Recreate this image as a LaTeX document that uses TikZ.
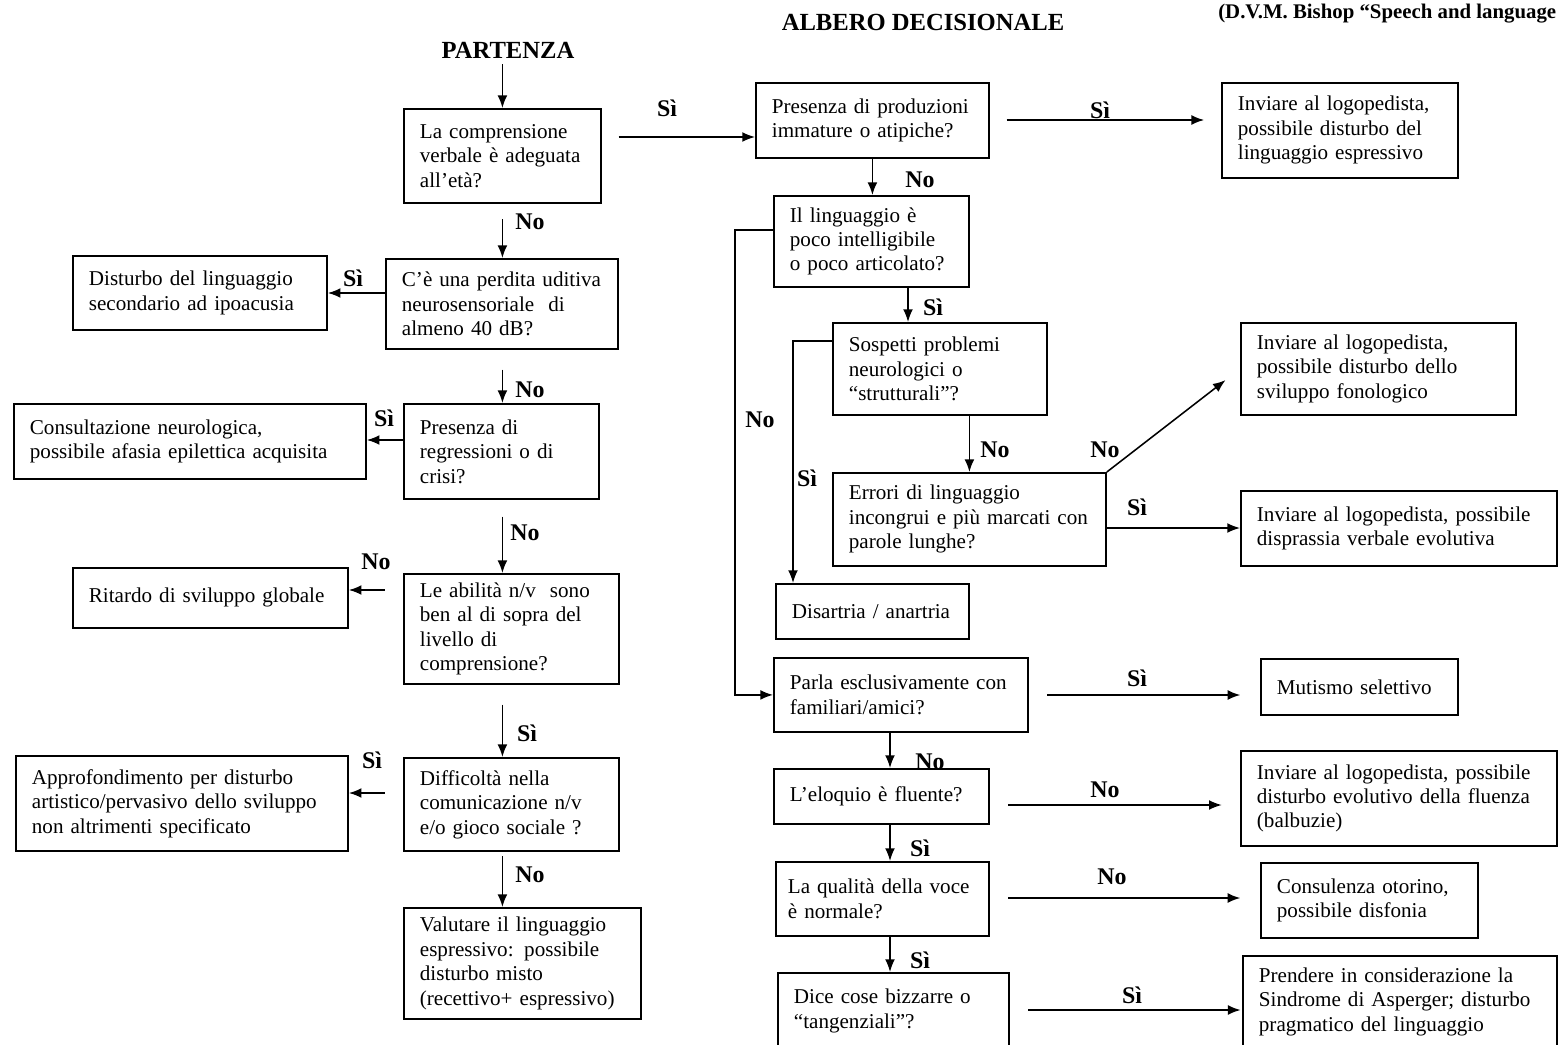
\documentclass[tikz,border=0pt]{standalone}
\usepackage{fontspec}
\setmainfont{Liberation Serif}
\usetikzlibrary{arrows.meta,positioning}
\newdimen\px \px=0.025cm

\begin{document}
\begin{tikzpicture}[
            x=\px, y=-\px,
            box/.style={draw, line width=1.3pt, rectangle, anchor=north west, align=left,
                inner xsep=16\px, inner ysep=0pt, font=\fontsize{15}{17.4}\selectfont},
            lbl/.style={font=\fontsize{17}{20}\selectfont\bfseries, inner sep=0pt},
            title/.style={font=\fontsize{17.5}{20}\selectfont\bfseries, inner sep=0pt},
            arr/.style={-{Latex[length=9pt,width=7pt]}, line width=1.1pt}
        ]
        \useasboundingbox (0,0) rectangle (1558,1045);

        % Titles
        \node[title] (start) at (508,50) {PARTENZA};
        \node[title] (albero) at (923,22) {ALBERO DECISIONALE};
        \node[anchor=west, inner sep=0pt, font=\fontsize{14.8}{17}\selectfont\bfseries] (fonte) at (1218,14) {(D.V.M. Bishop “Speech and language};

        % Left column
        \node[box, text width=165\px, minimum height=94\px] (q1) at (403,108) {La comprensione\\verbale è adeguata\\all’età?};
        \node[box, text width=200\px, minimum height=90\px] (q2) at (385,258) {C’è una perdita uditiva\\neurosensoriale\ \ di\\almeno 40 dB?};
        \node[box, text width=222\px, minimum height=74\px] (l1) at (72,255) {Disturbo del linguaggio\\secondario ad ipoacusia};
        \node[box, text width=163\px, minimum height=95\px] (q3) at (403,403) {Presenza di\\regressioni o di\\crisi?};
        \node[box, text width=320\px, minimum height=75\px] (l2) at (13,403) {Consultazione neurologica,\\possibile afasia epilettica acquisita};
        \node[box, text width=183\px, minimum height=110\px] (q4) at (403,573) {Le abilità n/v\ \ sono\\ben al di sopra del\\livello di\\comprensione?};
        \node[box, text width=243\px, minimum height=60\px] (l3) at (72,567) {Ritardo di sviluppo globale};
        \node[box, text width=183\px, minimum height=93\px] (q5) at (403,757) {Difficoltà nella\\comunicazione n/v\\e/o gioco sociale ?};
        \node[box, text width=300\px, minimum height=95\px] (l4) at (15,755) {Approfondimento per disturbo\\artistico/pervasivo dello sviluppo\\non altrimenti specificato};
        \node[box, text width=205\px, minimum height=111\px] (q6) at (403,907) {Valutare il linguaggio\\espressivo: possibile\\disturbo misto\\(recettivo+ espressivo)};

        % Right column
        \node[box, text width=201\px, minimum height=75\px] (r1) at (755,82) {Presenza di produzioni\\immature o atipiche?};
        \node[box, text width=204\px, minimum height=95\px] (r1b) at (1221,82) {Inviare al logopedista,\\possibile disturbo del\\linguaggio espressivo};
        \node[box, text width=163\px, minimum height=91\px] (r2) at (773,195) {Il linguaggio è\\poco intelligibile\\o poco articolato?};
        \node[box, text width=182\px, minimum height=92\px] (r3) at (832,322) {Sospetti problemi\\neurologici o\\“strutturali”?};
        \node[box, text width=243\px, minimum height=92\px] (r3b) at (1240,322) {Inviare al logopedista,\\possibile disturbo dello\\sviluppo fonologico};
        \node[box, text width=241\px, minimum height=93\px] (r4) at (832,472) {Errori di linguaggio\\incongrui e più marcati con\\parole lunghe?};
        \node[box, text width=284\px, minimum height=75\px] (r4b) at (1240,490) {Inviare al logopedista, possibile\\disprassia verbale evolutiva};
        \node[box, text width=161\px, minimum height=55\px] (r5) at (775,583) {Disartria / anartria};
        \node[box, text width=222\px, minimum height=74\px] (r6) at (773,657) {Parla esclusivamente con\\familiari/amici?};
        \node[box, text width=165\px, minimum height=56\px] (r6b) at (1260,658) {Mutismo selettivo};
        \node[box, text width=183\px, minimum height=55\px] (r7) at (773,768) {L’eloquio è fluente?};
        \node[box, text width=284\px, minimum height=95\px] (r7b) at (1240,750) {Inviare al logopedista, possibile\\disturbo evolutivo della fluenza\\(balbuzie)};
        \node[box, text width=189\px, inner xsep=12\px, minimum height=74\px] (r8) at (775,861) {La qualità della voce\\è normale?};
        \node[box, text width=185\px, minimum height=75\px] (r8b) at (1260,862) {Consulenza otorino,\\possibile disfonia};
        \node[box, text width=199\px, minimum height=76\px] (r9) at (777,972) {Dice cose bizzarre o\\“tangenziali”?};
        \node[box, text width=282\px, minimum height=92\px] (r9b) at (1242,955) {Prendere in considerazione la\\Sindrome di Asperger; disturbo\\pragmatico del linguaggio};

        % Left column connectors
        \draw[arr, shorten <=4pt] (q1.north |- start.south) -- (q1.north);
        \draw[arr, shorten <=11pt] (q1.south) -- (q1.south |- q2.north);
        \draw[arr, shorten <=14pt] (q1.south |- q2.south) -- (q1.south |- q3.north);
        \draw[arr, shorten <=12pt] (q1.south |- q3.south) -- (q1.south |- q4.north);
        \draw[arr, shorten <=14pt] (q1.south |- q4.south) -- (q1.south |- q5.north);
        \draw[arr, shorten <=3pt] (q1.south |- q5.south) -- (q1.south |- q6.north);
        \draw[arr] (q2.west |- 0,293) -- (l1.east |- 0,293);
        \draw[arr] (q3.west |- 0,440) -- (l2.east |- 0,440);
        \draw[arr, shorten <=13pt] (q4.west |- 0,590) -- (l3.east |- 0,590);
        \draw[arr, shorten <=13pt] (q5.west |- 0,793) -- (l4.east |- 0,793);

        % Right column connectors
        \draw[arr, shorten <=12pt] (q1.east |- 0,137) -- (r1.west |- 0,137);
        \draw[arr, shorten <=12pt, shorten >=12pt] (r1.east |- 0,120) -- (r1b.west |- 0,120);
        \draw[arr] (r1.south) -- (r1.south |- r2.north);
        \draw[arr] (908,0 |- r2.south) -- (908,0 |- r3.north);
        \draw[arr] (r2.west |- 0,230) -- ++(-38,0) |- (r6.west);
        \draw[arr] (r3.west |- 0,341) -- ++(-39,0) coordinate (sibend) -- (sibend |- r5.north);
        \draw[arr] (r4.north |- r3.south) -- (r4.north);
        \draw[arr, shorten >=13pt] (r4.north east) -- (r3b.west);
        \draw[arr] (r4.east |- 0,528) -- (r4b.west |- 0,528);
        \draw[arr, shorten <=13pt, shorten >=14pt] (r6.east |- 0,695) -- (r6b.west |- 0,695);
        \draw[arr] (890,0 |- r6.south) -- (890,0 |- r7.north);
        \draw[arr, shorten <=13pt, shorten >=13pt] (r7.east |- 0,805) -- (r7b.west |- 0,805);
        \draw[arr] (890,0 |- r7.south) -- (890,0 |- r8.north);
        \draw[arr, shorten <=13pt, shorten >=14pt] (r8.east |- 0,898) -- (r8b.west |- 0,898);
        \draw[arr] (890,0 |- r8.south) -- (890,0 |- r9.north);
        \draw[arr, shorten <=13pt, shorten >=1pt] (r9.east |- 0,1010) -- (r9b.west |- 0,1010);

        % Answers
        \node[lbl] (a1) at (530,222) {No};
        \node[lbl] (a2) at (353,278) {Sì};
        \node[lbl] (a3) at (530,390) {No};
        \node[lbl] (a4) at (384,418) {Sì};
        \node[lbl] (a5) at (525,533) {No};
        \node[lbl] (a6) at (376,562) {No};
        \node[lbl] (a7) at (527,733) {Sì};
        \node[lbl] (a8) at (372,760) {Sì};
        \node[lbl] (a9) at (530,875) {No};
        \node[lbl] (b1) at (667,108) {Sì};
        \node[lbl] (b2) at (1100,110) {Sì};
        \node[lbl] (b3) at (920,180) {No};
        \node[lbl] (b4) at (760,420) {No};
        \node[lbl] (b5) at (933,307) {Sì};
        \node[lbl] (b6) at (807,478) {Sì};
        \node[lbl] (b7) at (995,450) {No};
        \node[lbl] (b8) at (1105,450) {No};
        \node[lbl] (b9) at (1137,507) {Sì};
        \node[lbl] (b10) at (1137,678) {Sì};
        \node[lbl] (b11) at (930,762) {No};
        \node[lbl] (b12) at (1105,790) {No};
        \node[lbl] (b13) at (920,848) {Sì};
        \node[lbl] (b14) at (1112,877) {No};
        \node[lbl] (b15) at (920,960) {Sì};
        \node[lbl] (b16) at (1132,995) {Sì};

        \end{tikzpicture}
\end{document}
